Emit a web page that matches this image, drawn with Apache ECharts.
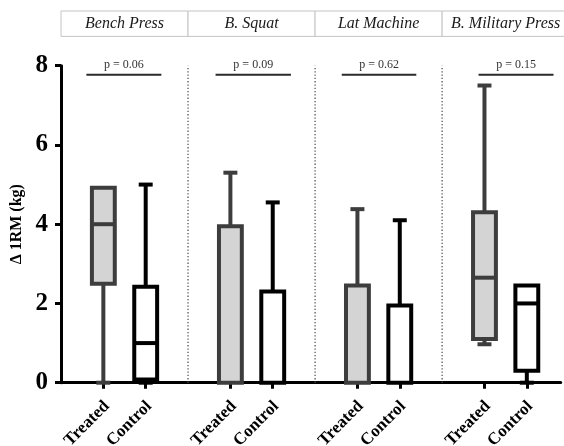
<!DOCTYPE html>
<html>
<head>
<meta charset="utf-8">
<script src="https://cdn.jsdelivr.net/npm/echarts@6/dist/echarts.min.js"></script>
<style>
  html, body { margin: 0; padding: 0; background: #fff; }
  #chart { width: 564px; height: 446px; }
</style>
</head>
<body>
<div id="chart"></div>
<script>
// Exercises and groups
const exercises = ['Bench Press', 'B. Squat', 'Lat Machine', 'B. Military Press'];
const groupLabels = ['Treated', 'Control'];
const pValues = ['p = 0.06', 'p = 0.09', 'p = 0.62', 'p = 0.15'];

// Five-number summaries of the 1RM change (kg): [min, Q1, median, Q3, max]
const treated = [
  [0, 2.5, 4.0, 4.92, 4.92],
  [0, 0, 0, 3.95, 5.3],
  [0, 0, 0, 2.45, 4.38],
  [0.97, 1.1, 2.65, 4.3, 7.5]
];
const control = [
  [0, 0.08, 1.0, 2.42, 5.0],
  [0, 0, 0, 2.3, 4.55],
  [0, 0, 0, 1.95, 4.1],
  [0, 0.3, 2.0, 2.45, 2.45]
];
const yTicks = [0, 2, 4, 6, 8];

// ---- layout helpers (slot positions on the x value axis) ----
const SLOTS_PER_GROUP = 3;                    // treated, control, gap
const slotOf = (g, k) => g * SLOTS_PER_GROUP + 1 + k;
const tickSlots = [];
exercises.forEach((_, g) => groupLabels.forEach((_, k) => tickSlots.push(slotOf(g, k))));
const LABEL_SHIFT = -0.06;                    // anchor of the rotated labels relative to their tick
const labelSlots = tickSlots.map(s => s + LABEL_SHIFT);
const separatorSlots = exercises.slice(1).map((_, g) => (g + 1) * SLOTS_PER_GROUP);
const pLineSpan = [[0.6, 2.37], [0.65, 2.43], [0.63, 2.39], [0.86, 2.63]];
const SERIF = '"Liberation Serif", "DejaVu Serif", serif';

const boxData = [];
exercises.forEach((_, g) => {
  boxData.push([slotOf(g, 0)].concat(treated[g], [0]));
  boxData.push([slotOf(g, 1)].concat(control[g], [1]));
});

function renderBox(params, api) {
  const x = api.value(0);
  const v = [1, 2, 3, 4, 5].map(d => api.value(d));
  const kind = api.value(6);
  const stroke = kind === 0 ? '#3d3d3d' : '#000000';
  const fill = kind === 0 ? '#d4d4d4' : '#ffffff';
  const half = 0.27, cap = 0.165, lw = 4;
  const px = off => api.coord([x + off, 0])[0];
  const py = val => api.coord([x, val])[1];
  const C = px(0), L = px(-half), R = px(half);
  const y = v.map(py);
  const children = [];
  const line = (x1, y1, x2, y2) => ({
    type: 'line', shape: { x1, y1, x2, y2 },
    style: { stroke, lineWidth: lw, lineCap: 'butt' }
  });
  if (v[4] > v[3]) {
    children.push(line(C, y[3], C, y[4]));
    children.push(line(px(-cap), y[4], px(cap), y[4]));
  }
  if (v[0] < v[1]) {
    children.push(line(C, y[1], C, y[0]));
    children.push(line(px(-cap), y[0], px(cap), y[0]));
  }
  children.push({
    type: 'rect',
    shape: { x: L, y: y[3], width: R - L, height: y[1] - y[3] },
    style: { fill, stroke, lineWidth: lw }
  });
  if (v[2] > v[1] && v[2] < v[3]) children.push(line(L, y[2], R, y[2]));
  return { type: 'group', children };
}

function renderSeparator(params, api) {
  const x = api.value(0);
  const a = api.coord([x, 0]), b = api.coord([x, 8]);
  return {
    type: 'line',
    shape: { x1: a[0], y1: a[1], x2: b[0], y2: b[1] },
    style: { stroke: '#555', lineWidth: 1.3, lineDash: [1.3, 2] }
  };
}

function renderHeader(params, api) {
  const a = api.coord([api.value(0), 9.38]);
  const b = api.coord([api.value(1), 8.74]);
  return {
    type: 'group',
    children: [
      { type: 'rect', shape: { x: a[0], y: a[1], width: b[0] - a[0], height: b[1] - a[1] },
        style: { fill: '#fff', stroke: '#c4c4c4', lineWidth: 1 } },
      { type: 'text', x: (a[0] + b[0]) / 2, y: (a[1] + b[1]) / 2,
        style: { text: exercises[api.value(2)], font: 'italic 16px ' + SERIF,
                 fill: '#1a1a1a', align: 'center', verticalAlign: 'middle' } }
    ]
  };
}

function renderPValue(params, api) {
  const g = api.value(2);
  const a = api.coord([api.value(0), 7.77]);
  const b = api.coord([api.value(1), 7.77]);
  const t = api.coord([(api.value(0) + api.value(1)) / 2, 8.02]);
  return {
    type: 'group',
    children: [
      { type: 'line', shape: { x1: a[0], y1: a[1], x2: b[0], y2: b[1] },
        style: { stroke: '#2a2a2a', lineWidth: 2 } },
      { type: 'text', x: t[0], y: t[1],
        style: { text: pValues[g], font: '12px ' + SERIF, fill: '#333',
                 align: 'center', verticalAlign: 'middle' } }
    ]
  };
}

const chart = echarts.init(document.getElementById('chart'), null, { renderer: 'canvas' });
chart.setOption({
  animation: false,
  backgroundColor: '#fff',
  grid: { left: 61, right: 3.3, top: 65.7, bottom: 63.3, containLabel: false, outerBoundsMode: 'none' },
  xAxis: {
    type: 'value', min: 0, max: 11.8,
    splitLine: { show: false },
    axisLine: { show: true, lineStyle: { color: '#000', width: 3 } },
    axisTick: { show: true, customValues: tickSlots, length: 6, lineStyle: { color: '#000', width: 3 } },
    axisLabel: {
      customValues: labelSlots, rotate: 45, margin: 15,
      align: 'right', verticalAlign: 'top',
      formatter: v => groupLabels[(Math.round(v) - 1) % SLOTS_PER_GROUP],
      fontFamily: SERIF, fontWeight: 'bold', fontSize: 17, color: '#000'
    }
  },
  yAxis: {
    type: 'value', min: yTicks[0], max: yTicks[yTicks.length - 1], interval: 2,
    name: 'Δ 1RM (kg)', nameLocation: 'middle', nameGap: 36, nameRotate: 90,
    nameTextStyle: { fontFamily: SERIF, fontWeight: 'bold', fontSize: 16, color: '#000' },
    splitLine: { show: false },
    axisLine: { show: true, lineStyle: { color: '#000', width: 3 } },
    axisTick: { show: true, length: 6, lineStyle: { color: '#000', width: 3 } },
    axisLabel: { margin: 13, fontFamily: SERIF, fontWeight: 'bold', fontSize: 25, color: '#000' }
  },
  series: [
    { type: 'custom', renderItem: renderSeparator, data: separatorSlots.map(s => [s]),
      encode: { x: 0 }, z: 1, silent: true },
    { type: 'custom', renderItem: renderBox, data: boxData,
      encode: { x: 0, y: [1, 2, 3, 4, 5] }, z: 3, silent: true },
    { type: 'custom', renderItem: renderHeader, clip: false,
      data: exercises.map((_, g) => [g * SLOTS_PER_GROUP, (g + 1) * SLOTS_PER_GROUP, g]),
      encode: { x: [0, 1] }, z: 4, silent: true },
    { type: 'custom', renderItem: renderPValue, clip: false,
      data: exercises.map((_, g) => [g * SLOTS_PER_GROUP + pLineSpan[g][0], g * SLOTS_PER_GROUP + pLineSpan[g][1], g]),
      encode: { x: [0, 1] }, z: 4, silent: true }
  ]
});
</script>
</body>
</html>
